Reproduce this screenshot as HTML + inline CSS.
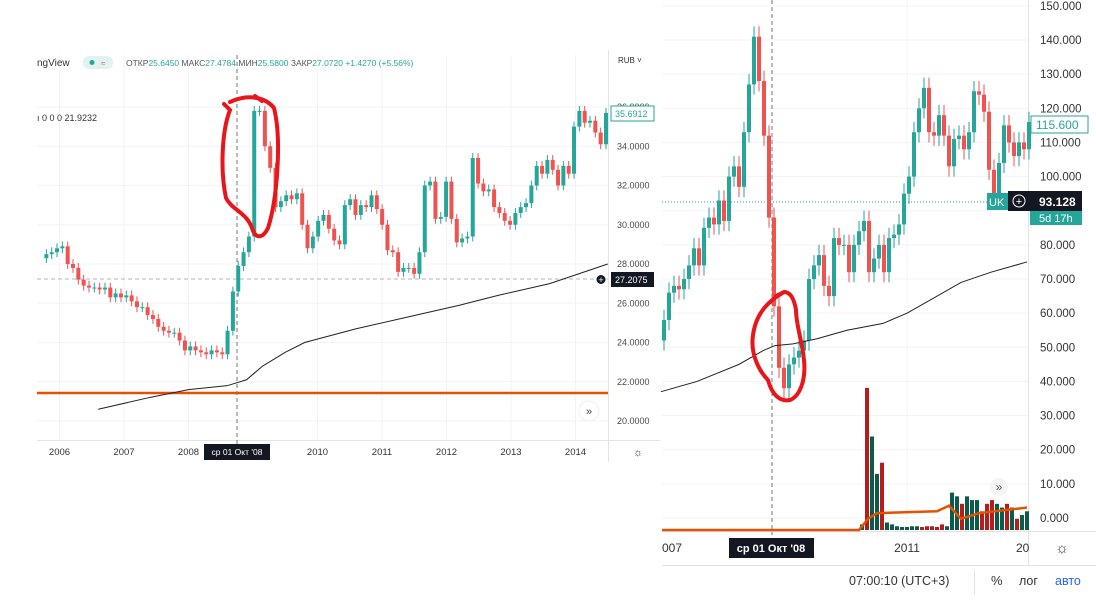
<!DOCTYPE html>
<html><head><meta charset="utf-8"><style>
html,body{margin:0;padding:0;background:#fff;width:1096px;height:609px;overflow:hidden}
svg{display:block;font-family:"Liberation Sans",sans-serif}
</style></head><body>
<svg id="s" width="1096" height="609" viewBox="0 0 1096 609">
<rect width="1096" height="609" fill="#fff"/>
<g id="L"></g>
<g id="R"></g>
</svg>
<script>
// ---- Left chart data (monthly closes) ----
const leftCloses=[28.5,28.6,28.8,28.9,28.0,27.8,27.2,26.9,26.8,26.8,26.7,26.8,26.3,26.5,26.3,26.4,26.1,25.8,25.8,25.4,25.2,24.8,24.6,24.5,24.5,24.1,23.6,23.8,23.6,23.5,23.4,23.6,23.5,23.4,24.6,26.6,27.9,28.6,29.4,35.8,35.8,34.0,32.9,30.9,31.2,31.5,31.3,31.6,30.0,28.8,29.4,30.2,30.5,29.8,29.2,29.0,31.0,31.3,30.5,31.0,30.9,31.5,30.8,30.0,28.7,28.6,27.6,27.8,27.8,27.5,28.6,32.0,32.2,30.3,30.4,32.2,30.3,29.1,29.3,29.4,33.4,32.1,31.7,31.8,30.9,30.6,30.2,30.0,30.6,30.9,31.1,32.0,33.0,32.6,33.3,32.8,32.0,33.0,32.6,35.0,35.8,35.2,35.3,34.7,34.1,35.7];
const leftTicks=[20,22,24,26,28,30,32,34,36];
const leftYears=[2006,2007,2008,2010,2011,2012,2013,2014];
const leftMA=[[2006.6,20.6],[2007.4,21.2],[2008.0,21.6],[2008.6,21.8],[2008.9,22.1],[2009.15,22.8],[2009.5,23.5],[2009.8,24.0],[2010.6,24.7],[2011.4,25.3],[2012.2,25.9],[2012.8,26.4],[2013.6,27.0],[2014.5,28.0]];
// ---- Right chart data (monthly closes) ----
const rightCloses=[52,58,66,68,67,70,74,79,74,85,88,86,93,87,100,103,97,113,127,141,128,112,88,62,44,38,45,47,49,52,70,74,77,68,65,82,80,80,72,80,84,87,72,76,80,72,82,83,86,95,100,113,120,126,113,112,118,112,103,111,112,108,113,125,124,119,102,95,104,115,110,106,110,108,116];
const rightTicks=[0,10,20,30,40,50,60,70,80,90,100,110,120,130,140,150];
const rightMA=[[2006.9,37],[2007.5,40],[2008.2,45],[2008.6,49],[2008.8,50.5],[2009.1,51],[2009.5,52.5],[2010.0,55],[2010.6,57],[2011.0,60],[2011.4,64],[2011.9,69],[2012.4,72],[2013.0,75]];
const rightVol=[1.5,38,25,15,18,2,1.5,1,0.8,0.8,1,1,0.8,1,1,0.8,1.5,1,10,9,7,9,8,8,5,7,8,7,6,7,6,3,4,5];
const rightVolUp=[1,0,1,1,0,1,1,1,1,1,1,1,0,0,0,0,0,1,1,1,0,1,1,1,0,0,0,1,1,0,1,0,1,1];
const rightVolMA=[[2010.2,0],[2010.35,3],[2010.5,4.5],[2011.5,5],[2011.7,6.5],[2011.9,3],[2012.2,4.5],[2013.0,6]];

const NS="http://www.w3.org/2000/svg";
function el(p,t,a,txt){const e=document.createElementNS(NS,t);for(const k in a)e.setAttribute(k,a[k]);if(txt!=null)e.textContent=txt;p.appendChild(e);return e;}
const G="#26a69a",Rd="#ef5350";
const L=document.getElementById('L'),R=document.getElementById('R');

// ===== LEFT =====
const lx=y=>124+(y-2007)*64.5;
const ly=v=>421-(v-20)*19.625;
for(const t of leftTicks){
 const l=el(L,'line',{x1:37,x2:608,y1:ly(t),y2:ly(t),stroke:'#f0f3fa'});
 
 const tx=el(L,'text',{x:617,y:ly(t)+3,'font-size':9,fill:'#4a4a4a'},t.toFixed(4));
 
}
for(const y of leftYears){
 const l=el(L,'line',{x1:lx(y),x2:lx(y),y1:55,y2:440,stroke:'#f0f3fa'});
 
 const tx=el(L,'text',{x:lx(y),y:455,'font-size':9.5,fill:'#333','text-anchor':'middle'},String(y));
 
}
el(L,'line',{x1:608.5,x2:608.5,y1:50,y2:462,stroke:'#e0e3eb'});
el(L,'line',{x1:37,x2:660,y1:440.5,y2:440.5,stroke:'#e0e3eb'});
el(L,'line',{x1:37,x2:608,y1:279,y2:279,stroke:'#b2b5be','stroke-dasharray':'4 3'});
el(L,'line',{x1:237,x2:237,y1:55,y2:444,stroke:'#777','stroke-dasharray':'4 3'});
el(L,'line',{x1:37,x2:608,y1:393,y2:393,stroke:'#e65100','stroke-width':2.5});
{const n=leftCloses.length;
for(let i=0;i<n;i++){
 const c=leftCloses[i],o=i?leftCloses[i-1]:c-0.2,x=606-(n-1-i)*5.33,up=c>=o,col=up?G:Rd;
 const hi=Math.max(o,c)+0.25,lo=Math.min(o,c)-0.25;
 const w=el(L,'line',{x1:x,x2:x,y1:ly(hi),y2:ly(lo),stroke:col,'stroke-width':1});
 
 const top=ly(Math.max(o,c)),h=Math.max(1,Math.abs(ly(o)-ly(c)));
 const b=el(L,'rect',{x:x-2,y:top,width:4,height:h,fill:col});
 
}}
el(L,'polyline',{points:leftMA.map(p=>lx(p[0])+','+ly(p[1])).join(' '),fill:'none',stroke:'#222','stroke-width':1});
// header
el(L,'text',{x:37,y:66,'font-size':10,fill:'#333'},'ngView');
el(L,'rect',{x:83,y:56,width:30,height:13,rx:6,fill:'#e0f2f1'});
el(L,'circle',{cx:92,cy:62.5,r:2.5,fill:G});
el(L,'text',{x:101,y:66,'font-size':8,fill:Rd},'≈');
const hd=el(L,'text',{x:126,y:66,'font-size':8.5,fill:'#555'});
hd.innerHTML='ОТКР<tspan fill="#26a69a">25.6450</tspan> МАКС<tspan fill="#26a69a">27.4784</tspan> МИН<tspan fill="#26a69a">25.5800</tspan> ЗАКР<tspan fill="#26a69a">27.0720 +1.4270 (+5.56%)</tspan>';

el(L,'text',{x:37,y:121,'font-size':9,fill:'#333'},'ı  0  0  0  21.9232');
el(L,'text',{x:618,y:63,'font-size':8,fill:'#333'},'RUB ˅');
el(L,'rect',{x:611,y:106,width:43,height:15,fill:'#fff',stroke:G});
el(L,'text',{x:615,y:117,'font-size':9,fill:G},'35.6912');
el(L,'rect',{x:611,y:272,width:43,height:15,fill:'#131722'});
el(L,'text',{x:615,y:283,'font-size':9,fill:'#fff'},'27.2075');
el(L,'circle',{cx:601,cy:279.5,r:5,fill:'#131722',stroke:'#fff'});
el(L,'text',{x:601,y:283,'font-size':9,fill:'#fff','text-anchor':'middle'},'+');
el(L,'rect',{x:204,y:444,width:66,height:16,fill:'#131722'});
el(L,'text',{x:237,y:455,'font-size':8.5,fill:'#fff','text-anchor':'middle'},'ср 01 Окт \'08');
el(L,'circle',{cx:589,cy:411,r:10,fill:'#fff',stroke:'#eee'});
el(L,'text',{x:589,y:415,'font-size':11,fill:'#444','text-anchor':'middle'},'»');
el(L,'text',{x:638,y:456,'font-size':11,fill:'#333','text-anchor':'middle'},'☼');
el(L,'path',{d:'M230,102 C252,92 268,100 274,108 C282,140 277,200 268,228 C262,240 255,238 252,228 C246,212 232,210 226,198 C220,170 222,130 230,110 L224,104 M255,96 L262,101',fill:'none',stroke:'#e8161b','stroke-width':4,'stroke-linecap':'round'});

// ===== RIGHT =====
const rx=y=>907+(y-2011)*60;
const ry=v=>518-v*3.414;
for(const t of rightTicks){
 const l=el(R,'line',{x1:662,x2:1028,y1:ry(t),y2:ry(t),stroke:'#f0f3fa'});
 
 const tx=el(R,'text',{x:1040,y:ry(t)+4,'font-size':11.5,fill:'#333'},t.toFixed(3));
 
}
el(R,'line',{x1:907,x2:907,y1:0,y2:530,stroke:'#f0f3fa'});
el(R,'line',{x1:1028.5,x2:1028.5,y1:0,y2:565,stroke:'#e0e3eb'});
el(R,'line',{x1:662,x2:1096,y1:531.5,y2:531.5,stroke:'#e0e3eb'});
el(R,'line',{x1:662,x2:1096,y1:565.5,y2:565.5,stroke:'#e0e3eb'});
el(R,'line',{x1:772,x2:772,y1:0,y2:535,stroke:'#777','stroke-dasharray':'4 3'});
el(R,'line',{x1:662,x2:1028,y1:202,y2:202,stroke:G,'stroke-dasharray':'1 2'});
// volume
rightVol.forEach((v,i)=>{
 const x=862+i*5,h=v*3.74;
 const b=el(R,'rect',{x:x-2,y:530-h,width:4,height:h,fill:rightVolUp[i]?'#0b5a4a':'#b71c1c'});
 
});
el(R,'polyline',{points:'662,530 '+rightVolMA.map(p=>rx(p[0])+','+(530-p[1]*3.74)).join(' '),fill:'none',stroke:'#e65100','stroke-width':2.5});
{const n=rightCloses.length;
for(let i=0;i<n;i++){
 const c=rightCloses[i],o=i?rightCloses[i-1]:60,x=1029-(n-1-i)*5,up=c>=o,col=up?G:Rd;
 if(x<662)continue;
 const hi=Math.max(o,c)+3,lo=Math.min(o,c)-3;
 const w=el(R,'line',{x1:x,x2:x,y1:ry(hi),y2:ry(lo),stroke:col});
 
 const b=el(R,'rect',{x:x-2,y:ry(Math.max(o,c)),width:4,height:Math.max(1,Math.abs(ry(o)-ry(c))),fill:col});
 
}}
el(R,'polyline',{points:rightMA.map(p=>rx(p[0])+','+ry(p[1])).join(' '),fill:'none',stroke:'#222','stroke-width':1});
el(R,'rect',{x:1031,y:116,width:57,height:17,fill:'#fff',stroke:G});
el(R,'text',{x:1036,y:129,'font-size':12,fill:G},'115.600');
el(R,'rect',{x:987,y:193,width:22,height:17,fill:G});
el(R,'text',{x:989,y:206,'font-size':11,fill:'#fff'},'UK');
el(R,'rect',{x:1008,y:191,width:22,height:20,fill:'#131722'});
el(R,'circle',{cx:1019,cy:201,r:6,fill:'none',stroke:'#fff'});
el(R,'text',{x:1019,y:205,'font-size':11,fill:'#fff','text-anchor':'middle'},'+');
el(R,'rect',{x:1030,y:191,width:52,height:20,fill:'#131722'});
el(R,'text',{x:1039,y:206,'font-size':12,fill:'#fff','font-weight':'bold'},'93.128');
el(R,'rect',{x:1030,y:211,width:52,height:14,fill:G});
el(R,'text',{x:1039,y:222,'font-size':11,fill:'#fff'},'5d 17h');
el(R,'text',{x:662,y:552,'font-size':12,fill:'#333'},'007');
el(R,'text',{x:907,y:552,'font-size':12,fill:'#333','text-anchor':'middle'},'2011');
el(R,'text',{x:1016,y:552,'font-size':12,fill:'#333'},'20');
el(R,'rect',{x:729,y:538,width:85,height:20,fill:'#131722'});
el(R,'text',{x:771,y:552,'font-size':11,fill:'#fff','text-anchor':'middle','font-weight':'bold'},'ср 01 Окт \'08');
el(R,'text',{x:1062,y:553,'font-size':15,fill:'#333','text-anchor':'middle'},'☼');
el(R,'circle',{cx:999,cy:487,r:9,fill:'#f4f4f4'});
el(R,'text',{x:999,y:491,'font-size':12,fill:'#555','text-anchor':'middle'},'»');
el(R,'line',{x1:974.5,x2:974.5,y1:570,y2:595,stroke:'#e0e3eb'});
el(R,'text',{x:849,y:585,'font-size':12.5,fill:'#333'},'07:00:10 (UTC+3)');
el(R,'text',{x:991,y:585,'font-size':13,fill:'#333'},'%');
el(R,'text',{x:1019,y:585,'font-size':12.5,fill:'#333'},'лог');
el(R,'text',{x:1055,y:585,'font-size':12.5,fill:'#2962ff'},'авто');
el(R,'path',{d:'M784,292 C770,300 756,312 753,335 C750,355 760,372 768,380 C772,395 780,402 790,400 C800,396 806,380 804,360 C802,340 796,325 796,310 C794,298 790,292 784,292 L776,296',fill:'none',stroke:'#e8161b','stroke-width':4,'stroke-linecap':'round'});
</script>
</body></html>
